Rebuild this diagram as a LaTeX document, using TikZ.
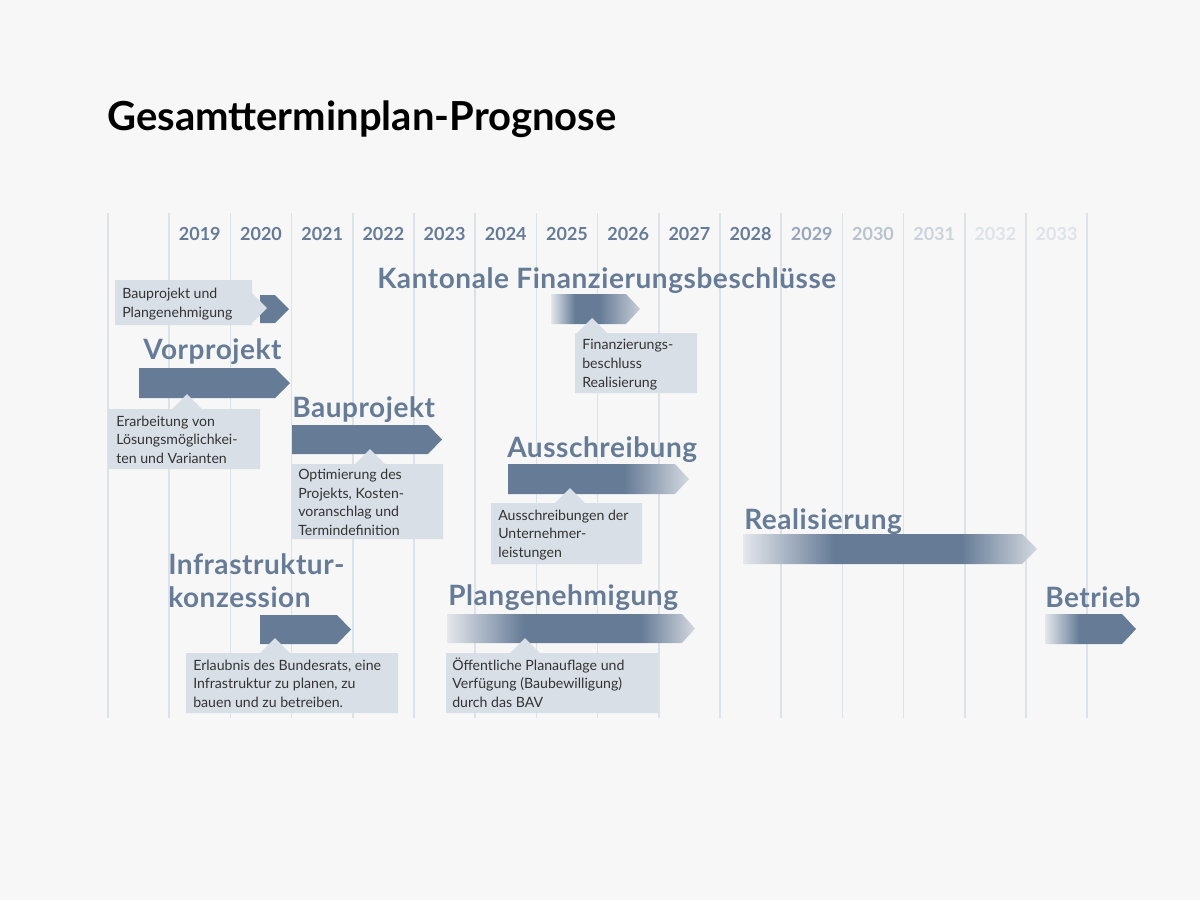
\documentclass[tikz,border=0pt]{standalone}
\usepackage{fontspec}
\setmainfont{Lato}
\newfontfamily\phasefont[LetterSpace=2]{Lato}
\definecolor{bg}{HTML}{F7F7F8}
\definecolor{bar}{HTML}{657B96}
\definecolor{callout}{HTML}{D9DFE7}
\definecolor{gridc}{HTML}{DDE2E9}
\definecolor{ctext}{HTML}{333333}
\definecolor{yA}{HTML}{657B96}
\definecolor{yB}{HTML}{97A6B8}
\definecolor{yC}{HTML}{B9C3CF}
\definecolor{yD}{HTML}{CDD3DC}
\definecolor{yE}{HTML}{DEE2E9}
\definecolor{fadeA}{HTML}{E4E7EC}
\definecolor{fadeB}{HTML}{C6CDD7}
\definecolor{fadeC}{HTML}{D3D8DF}
\pgfdeclarehorizontalshading{finshade}{100bp}{color(0bp)=(fadeA); color(25bp)=(fadeA); color(38.5bp)=(bar); color(52bp)=(bar); color(75bp)=(fadeB); color(100bp)=(fadeB)}
\pgfdeclarehorizontalshading{ausshade}{100bp}{color(0bp)=(bar); color(25bp)=(bar); color(57bp)=(bar); color(75bp)=(fadeC); color(100bp)=(fadeC)}
\pgfdeclarehorizontalshading{realshade}{100bp}{color(0bp)=(fadeA); color(25bp)=(fadeA); color(40.5bp)=(bar); color(62bp)=(bar); color(75bp)=(fadeC); color(100bp)=(fadeC)}
\pgfdeclarehorizontalshading{betrshade}{100bp}{color(0bp)=(fadeA); color(25bp)=(fadeA); color(44bp)=(bar); color(75bp)=(bar); color(100bp)=(bar)}
\pgfdeclarehorizontalshading{planshade}{100bp}{color(0bp)=(fadeA); color(25bp)=(fadeA); color(40.5bp)=(bar); color(64bp)=(bar); color(75bp)=(fadeC); color(100bp)=(fadeC)}
\tikzset{
  gridline/.style={draw=gridc, line width=1.2pt},
  yearlbl/.style={anchor=base, inner sep=0pt, font=\fontsize{13.5}{16}\selectfont\bfseries},
  phase/.style={anchor=base west, inner sep=0pt, text=bar, font=\phasefont\fontsize{21}{25}\selectfont\bfseries},
  calltext/.style={anchor=base west, inner sep=0pt, align=left, text=ctext, font=\fontsize{10.6}{14}\selectfont},
  callbox/.style={fill=callout},
  barfill/.style={fill=bar},
}
\begin{document}
\begin{tikzpicture}[x=0.75pt, y=-0.75pt]
\fill[bg] (0,0) rectangle (1200,900);
\useasboundingbox (0,0) rectangle (1200,900);
% title
\node[anchor=base west, inner sep=0pt, font=\fontsize{30}{36}\selectfont\bfseries] (title) at (107,130.5) {Gesamtterminplan-Prognose};
% grid lines
\foreach \k in {0,...,16} {
  \draw[gridline] ({108+61.2*\k},213) -- ({108+61.2*\k},718);
}
% years
\foreach \k/\c in {1/yA,2/yA,3/yA,4/yA,5/yA,6/yA,7/yA,8/yA,9/yA,10/yA,11/yB,12/yC,13/yD,14/yE,15/yE} {
  \pgfmathtruncatemacro{\yr}{2018+\k}
  \node[yearlbl, text=\c] (y\yr) at ({108+61.2*(\k+0.5)},240) {\yr};
}
% bars
\fill[barfill] (260,295) -- (275,295) -- (289,309) -- (275,323) -- (260,323) -- cycle;
\fill[barfill] (139,368) -- (275,368) -- (290,383) -- (275,398) -- (139,398) -- cycle;
\fill[barfill] (292,425) -- (428,425) -- (442,439.5) -- (428,454) -- (292,454) -- cycle;
\shade[shading=finshade] (551,294) -- (626,294) -- (640,309) -- (626,324) -- (551,324) -- cycle;
\shade[shading=ausshade] (508,464) -- (675,464) -- (689,479) -- (675,494) -- (508,494) -- cycle;
\shade[shading=realshade] (743,534) -- (1022,534) -- (1037,549) -- (1022,564) -- (743,564) -- cycle;
\shade[shading=betrshade] (1045,614) -- (1122,614) -- (1136,629) -- (1122,644) -- (1045,644) -- cycle;
\fill[barfill] (260,615) -- (337,615) -- (351,629.5) -- (337,644) -- (260,644) -- cycle;
\shade[shading=planshade] (447,614) -- (682,614) -- (695,628.5) -- (682,643) -- (447,643) -- cycle;
% callouts
\fill[callbox] (115,280) -- (252,280) -- (252,293) -- (267,308) -- (252,323) -- (252,325) -- (115,325) -- cycle;
\fill[callbox] (108,409) -- (172,409) -- (187,394) -- (202,409) -- (260,409) -- (260,469) -- (108,469) -- cycle;
\fill[callbox] (292,464) -- (355,464) -- (370,449) -- (385,464) -- (443,464) -- (443,539) -- (292,539) -- cycle;
\fill[callbox] (575,333) -- (577,333) -- (592,318) -- (607,333) -- (697,333) -- (697,393) -- (575,393) -- cycle;
\fill[callbox] (491,503) -- (555,503) -- (570,488) -- (585,503) -- (642,503) -- (642,564) -- (491,564) -- cycle;
\fill[callbox] (186,653) -- (260,653) -- (275,638) -- (290,653) -- (398,653) -- (398,713) -- (186,713) -- cycle;
\fill[callbox] (446,653) -- (510,653) -- (525,638) -- (540,653) -- (658,653) -- (658,713) -- (446,713) -- cycle;
% phase titles
\node[phase] (kant) at (377,288) {Kantonale Finanzierungsbeschlüsse};
\node[phase] (vorp) at (143,359) {Vorprojekt};
\node[phase] (baup) at (292,417) {Bauprojekt};
\node[phase] (auss) at (507,457) {Ausschreibung};
\node[phase] (real) at (744,529) {Realisierung};
\node[phase] (betr) at (1045,607) {Betrieb};
\node[phase] (infa) at (168,574) {Infrastruktur-};
\node[phase] (infb) at (168,607) {konzession};
\node[phase] (plan) at (448,605) {Plangenehmigung};
% callout texts (anchor = baseline of last line)
\node[calltext] (t1) at (122,317) {Bauprojekt und\\Plangenehmigung};
\node[calltext] (t2) at (116,463.5) {Erarbeitung von\\Lösungsmöglichkei-\\ten und Varianten};
\node[calltext] (t3) at (298,535.5) {Optimierung des\\Projekts, Kosten-\\voranschlag und\\Termindefinition};
\node[calltext] (t4) at (582,387) {Finanzierungs-\\beschluss\\Realisierung};
\node[calltext] (t5) at (498,557.5) {Ausschreibungen der\\Unternehmer-\\leistungen};
\node[calltext] (t6) at (193,707.5) {Erlaubnis des Bundesrats, eine\\Infrastruktur zu planen, zu\\bauen und zu betreiben.};
\node[calltext] (t7) at (452,707.5) {Öffentliche Planauflage und\\Verfügung (Baubewilligung)\\durch das BAV};
\end{tikzpicture}
\end{document}
